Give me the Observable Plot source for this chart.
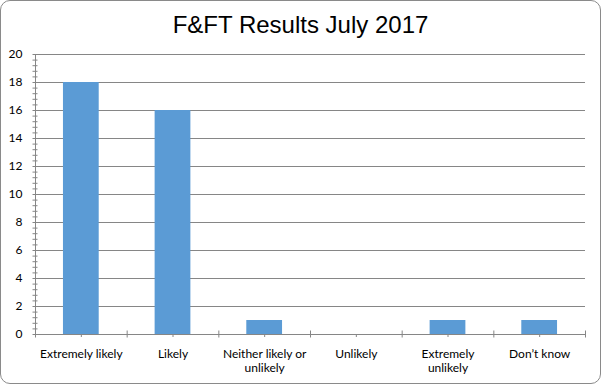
<!DOCTYPE html>
<html><head><meta charset="utf-8">
<script src="https://cdn.jsdelivr.net/npm/d3@7"></script>
<script src="https://cdn.jsdelivr.net/npm/@observablehq/plot@0.6"></script>
<style>
body{margin:0;background:#fff;}
#wrap{position:relative;width:601px;height:385px;overflow:hidden;}
#border{position:absolute;left:0;top:0;width:601px;height:384px;box-sizing:border-box;border:1px solid #8a8a8a;border-radius:10px;}
#title{position:absolute;left:0;top:13px;width:601px;text-align:center;font:24px/24px "Liberation Sans",Arial,sans-serif;color:#000;}
#chart{position:absolute;left:0;top:0;}
</style></head><body>
<div id="wrap"><div id="border"></div><div id="title"></div><div id="chart"></div></div>
<script>
const title = "F&FT Results July 2017";
const categories = ["Extremely likely", "Likely", "Neither likely or unlikely", "Unlikely", "Extremely unlikely", "Don’t know"];
const tickLabels = ["Extremely likely", "Likely", "Neither likely or\nunlikely", "Unlikely", "Extremely\nunlikely", "Don’t know"];
const values = [18, 16, 1, 0, 1, 1];
const yMajor = [0, 2, 4, 6, 8, 10, 12, 14, 16, 18, 20];
const yMinor = d3.range(0, 51).map(i => i * 0.4);

document.getElementById("title").textContent = title;

const data = categories.map((c, i) => ({c, i, v: values[i]}));
const boundaries = d3.range(0, categories.length + 1);
const gap = 0.305;
const grey = "#868686";

const chart = Plot.plot({
  width: 601,
  height: 385,
  marginLeft: 35,
  marginRight: 16,
  marginTop: 54,
  marginBottom: 51,
  style: {fontFamily: "Lato, 'Open Sans', sans-serif", fontSize: "12px", color: "#000", background: "transparent"},
  x: {domain: [0, categories.length], axis: null},
  y: {domain: [0, 20], axis: null},
  marks: [
    Plot.ruleY(yMajor.filter(v => v > 0), {stroke: grey, strokeWidth: 1}),
    Plot.rectY(data.filter(d => d.v > 0), {x1: d => d.i + gap, x2: d => d.i + 1 - gap, y: "v", fill: "#5B9BD5"}),
    Plot.ruleY([0], {stroke: grey}),
    Plot.ruleX([0], {stroke: grey}),
    Plot.ruleY(yMinor, {x: 0, insetLeft: -2.5, insetRight: -2.5, stroke: grey}),
    Plot.ruleX(boundaries, {y: 0, insetTop: -3.5, insetBottom: -3.5, stroke: grey}),
    Plot.ruleX(data, {x: d => d.i + 0.5, y: 0, insetTop: 0, insetBottom: -3, stroke: grey}),
    Plot.text(yMajor, {x: 0, y: d => d, text: d => String(d), textAnchor: "end", dx: -13, fontSize: 12, fill: "#000"}),
    Plot.text(data, {x: d => d.i + 0.5, y: 0, text: d => tickLabels[d.i], lineAnchor: "top", dy: 14, lineHeight: 1.15, fontSize: 12, fill: "#000"})
  ]
});
document.getElementById("chart").appendChild(chart);
</script>
</body></html>
